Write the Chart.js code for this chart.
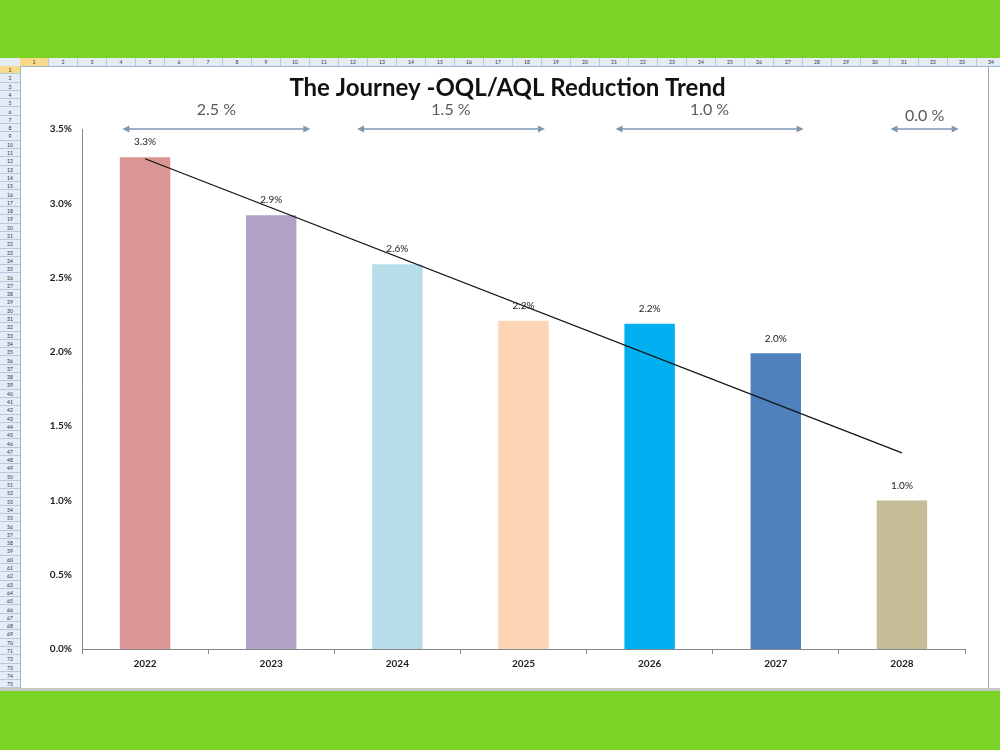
<!DOCTYPE html>
<html>
<head>
<meta charset="utf-8">
<script src="https://cdn.jsdelivr.net/npm/chart.js@4.4.1/dist/chart.umd.min.js"></script>
<style>
  html, body { margin:0; padding:0; width:1000px; height:750px; background:#7bd325; overflow:hidden; font-family: Lato, "Open Sans", sans-serif; }
  #sheet { position:absolute; left:0; top:58px; width:1000px; height:632px; background:#fff; }
  #colhdr { position:absolute; left:0; top:58px; width:1000px; height:8px; background:#e4ecf7; border-bottom:1px solid #9eb6ce; }
  #rowhdr { position:absolute; left:0; top:66px; width:20px; height:623px; background:#e4ecf7; border-right:1px solid #9eb6ce; overflow:hidden; }
  .c { position:absolute; top:0; height:8px; border-right:1px solid #b8c9dc; font-size:5px; line-height:8px; text-align:center; color:#333; box-sizing:border-box; }
  .r { position:absolute; left:0; width:20px; border-bottom:1px solid #b8c9dc; font-size:5px; text-align:center; color:#333; box-sizing:border-box; }
  #bottomline { position:absolute; left:0; top:688px; width:1000px; height:3px; background:#c8c8c8; }
  #wrap { position:absolute; left:21px; top:67px; width:967px; height:621px; border-right:1px solid #a0a0a0; }
</style>
</head>
<body>
<div id="sheet"></div>
<div id="colhdr"></div>
<div id="rowhdr"></div>
<div id="bottomline"></div>
<div id="wrap"><canvas id="chart" width="967" height="621"></canvas></div>
<script>
// ---- data ----
const categories = ['2022', '2023', '2024', '2025', '2026', '2027', '2028'];
const rates = [3.31, 2.92, 2.59, 2.21, 2.19, 1.99, 1.00];
const barColors = ['#d99694', '#b2a1c7', '#b7dee8', '#fcd5b5', '#00b0f0', '#4f81bd', '#c4bd97'];
const trend = [3.30, null, null, null, null, null, 1.32];
const yTicks = [0, 0.5, 1.0, 1.5, 2.0, 2.5, 3.0, 3.5];
const rangeLabels = ['2.5 %', '1.5 %', '1.0 %', '0.0 %'];
const rangeFrom = [-0.18, 1.68, 3.73, 5.91];
const rangeTo = [1.31, 3.17, 5.22, 6.45];
const titleText = 'The Journey -OQL/AQL Reduction Trend';

// ---- spreadsheet frame decoration ----
const colhdr = document.getElementById('colhdr');
for (let i = 0; i < 34; i++) {
  const d = document.createElement('div');
  d.className = 'c';
  d.style.left = (20 + i * 29) + 'px';
  d.style.width = '29px';
  if (i === 0) d.style.background = '#f9d98b';
  d.textContent = String(i + 1);
  colhdr.appendChild(d);
}
const rowhdr = document.getElementById('rowhdr');
for (let i = 0; i < 75; i++) {
  const d = document.createElement('div');
  d.className = 'r';
  d.style.top = (i * 8.3) + 'px';
  d.style.height = '8.3px';
  d.style.lineHeight = '8.3px';
  if (i === 0) d.style.background = '#f9d98b';
  d.textContent = String(i + 1);
  rowhdr.appendChild(d);
}

// ---- plugin: title, data labels, range arrows ----
const extras = {
  id: 'extras',
  afterDatasetsDraw(chart) {
    const ctx = chart.ctx;
    const xs = chart.scales.x, ys = chart.scales.y;
    ctx.save();
    // title centred on the chart box
    ctx.font = 'bold 24px Lato, "Open Sans", sans-serif';
    ctx.fillStyle = '#111';
    ctx.textAlign = 'center';
    ctx.textBaseline = 'middle';
    ctx.fillText(titleText, chart.width / 2 + 3, 21);
    // bar value labels
    ctx.font = '10px Lato, "Open Sans", sans-serif';
    ctx.fillStyle = '#222';
    const meta = chart.getDatasetMeta(0);
    meta.data.forEach((bar, i) => {
      ctx.fillText(rates[i].toFixed(1) + '%', bar.x, bar.y - 15);
    });
    // range arrows
    const ay = ys.getPixelForValue(3.5);
    ctx.strokeStyle = '#7f98b2';
    ctx.fillStyle = '#7f98b2';
    ctx.lineWidth = 1.5;
    rangeLabels.forEach((lab, i) => {
      const x1 = xs.getPixelForValue(rangeFrom[i]);
      const x2 = xs.getPixelForValue(rangeTo[i]);
      ctx.beginPath();
      ctx.moveTo(x1 + 2, ay); ctx.lineTo(x2 - 2, ay); ctx.stroke();
      ctx.beginPath();
      ctx.moveTo(x1, ay); ctx.lineTo(x1 + 7, ay - 3.5); ctx.lineTo(x1 + 7, ay + 3.5); ctx.closePath(); ctx.fill();
      ctx.beginPath();
      ctx.moveTo(x2, ay); ctx.lineTo(x2 - 7, ay - 3.5); ctx.lineTo(x2 - 7, ay + 3.5); ctx.closePath(); ctx.fill();
    });
    ctx.fillStyle = '#595959';
    ctx.font = '16px Lato, "Open Sans", sans-serif';
    rangeLabels.forEach((lab, i) => {
      const x1 = xs.getPixelForValue(rangeFrom[i]);
      const x2 = xs.getPixelForValue(rangeTo[i]);
      ctx.fillText(lab, (x1 + x2) / 2, ay - (i === 3 ? 13 : 19));
    });
    ctx.restore();
  }
};

new Chart(document.getElementById('chart'), {
  data: {
    labels: categories,
    datasets: [
      {
        type: 'bar',
        data: rates,
        backgroundColor: barColors,
        barPercentage: 0.4,
        categoryPercentage: 1.0,
        order: 2
      },
      {
        type: 'line',
        data: trend,
        borderColor: '#111',
        borderWidth: 1.2,
        pointRadius: 0,
        spanGaps: true,
        fill: false,
        order: 1
      }
    ]
  },
  options: {
    responsive: false,
    animation: false,
    layout: { padding: { top: 62, right: 23, bottom: 0, left: 0 } },
    plugins: {
      legend: { display: false },
      tooltip: { enabled: false },
      title: { display: false }
    },
    scales: {
      x: {
        offset: true,
        grid: { display: true, offset: true, drawOnChartArea: false, drawTicks: true, tickLength: 5, color: '#888' },
        border: { display: true, color: '#888', width: 1 },
        ticks: { color: '#222', font: { family: 'Lato, "Open Sans", sans-serif', size: 10, weight: 'bold' }, padding: 4, maxRotation: 0 },
        afterFit(s) { s.height = 39; }
      },
      y: {
        min: 0, max: 3.5,
        afterBuildTicks(s) { s.ticks = yTicks.map(v => ({ value: v })); },
        grid: { display: false, drawTicks: false },
        border: { display: true, color: '#888', width: 1 },
        ticks: {
          color: '#222',
          font: { family: 'Lato, "Open Sans", sans-serif', size: 10, weight: 'bold' },
          padding: 10,
          callback: v => Number(v).toFixed(1) + '%'
        },
        afterFit(s) { s.width = 61; }
      }
    }
  },
  plugins: [extras]
});
</script>
</body>
</html>
